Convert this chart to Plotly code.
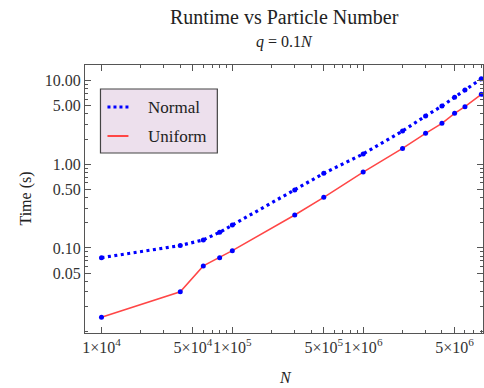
import plotly.graph_objects as go

# ---- data ----
N_values = [1e4, 4e4, 6e4, 8e4, 1e5, 3e5, 5e5, 1e6, 2e6, 3e6, 4e6, 5e6, 6e6, 8e6]
normal_time = [0.0766, 0.107, 0.125, 0.154, 0.188, 0.493, 0.78, 1.33, 2.5, 3.78, 4.97, 6.34, 7.74, 10.5]
uniform_time = [0.0149, 0.030, 0.061, 0.0766, 0.093, 0.248, 0.403, 0.809, 1.55, 2.35, 3.09, 4.07, 4.88, 6.86]

x_tickvals = [1e4, 5e4, 1e5, 5e5, 1e6, 5e6]
x_ticktext = ["1×10<sup>4</sup>", "5×10<sup>4</sup>", "1×10<sup>5</sup>",
              "5×10<sup>5</sup>", "1×10<sup>6</sup>", "5×10<sup>6</sup>"]
y_tickvals = [0.05, 0.10, 0.50, 1.00, 5.00, 10.00]
y_ticktext = ["0.05", "0.10", "0.50", "1.00", "5.00", "10.00"]

x_minor = [m * d for d in (1e4, 1e5, 1e6) for m in (2, 3, 4, 6, 7, 8, 9) if m * d < 8.3e6]
y_minor = [m * d for d in (0.01, 0.1, 1.0) for m in (1, 2, 3, 4, 6, 7, 8, 9)]

SERIF = "Liberation Serif, Times New Roman, serif"
BLUE = "rgb(0,0,255)"
RED = "rgb(255,70,70)"
AXIS = "#555555"

fig = go.Figure()
fig.add_trace(go.Scatter(x=N_values, y=uniform_time, mode="lines+markers", name="Uniform",
                         line=dict(color=RED, width=1.5),
                         marker=dict(color=BLUE, size=5), showlegend=False))
fig.add_trace(go.Scatter(x=N_values, y=normal_time, mode="lines+markers", name="Normal",
                         line=dict(color=BLUE, width=3.2, dash="3px,3.5px"),
                         marker=dict(color=BLUE, size=5), showlegend=False))

axis_common = dict(showline=True, linecolor=AXIS, linewidth=1, mirror="ticks",
                   ticks="inside", ticklen=6, tickcolor=AXIS, showgrid=False,
                   zeroline=False, tickfont=dict(family=SERIF, size=16, color="#333"))

fig.update_xaxes(type="log", range=[3.874, 6.916], tickvals=x_tickvals, ticktext=x_ticktext,
                 tickangle=0,
                 minor=dict(tickvals=x_minor, ticks="inside", ticklen=3, tickcolor=AXIS),
                 **axis_common)
fig.update_yaxes(type="log", range=[-2.016, 1.187], tickvals=y_tickvals, ticktext=y_ticktext,
                 minor=dict(tickvals=y_minor, ticks="inside", ticklen=3, tickcolor=AXIS),
                 **axis_common)

L, R_, T, B = 84.5, 483.0, 65.0, 333.0
def px(x):
    return (x - L) / (R_ - L)
def py(y):
    return (B - y) / (B - T)

annotations = [
    dict(text="Runtime vs Particle Number", x=0.5, y=py(17), xref="paper", yref="paper",
         showarrow=False, font=dict(family=SERIF, size=20, color="#222"), xanchor="center", yanchor="middle"),
    dict(text="<i>q</i> = 0.1<i>N</i>", x=0.5, y=py(42), xref="paper", yref="paper",
         showarrow=False, font=dict(family=SERIF, size=16, color="#222"), xanchor="center", yanchor="middle"),
    dict(text="Time (s)", x=px(25), y=py(199), xref="paper", yref="paper", textangle=-90,
         showarrow=False, font=dict(family=SERIF, size=16, color="#222"), xanchor="center", yanchor="middle"),
    dict(text="<i>N</i>", x=px(285), y=py(377), xref="paper", yref="paper",
         showarrow=False, font=dict(family=SERIF, size=16, color="#222"), xanchor="center", yanchor="middle"),
    dict(text="Normal", x=px(146), y=py(107), xref="paper", yref="paper",
         showarrow=False, font=dict(family=SERIF, size=17, color="#222"), xanchor="left", yanchor="middle"),
    dict(text="Uniform", x=px(146), y=py(136), xref="paper", yref="paper",
         showarrow=False, font=dict(family=SERIF, size=17, color="#222"), xanchor="left", yanchor="middle"),
]

shapes = [
    dict(type="rect", xref="paper", yref="paper", x0=px(100), x1=px(217), y0=py(153), y1=py(89),
         fillcolor="rgb(237,224,237)", line=dict(color="#444", width=1.2), layer="above"),
    dict(type="line", xref="paper", yref="paper", x0=px(107), x1=px(128), y0=py(107), y1=py(107),
         line=dict(color=BLUE, width=3, dash="3px,3px"), layer="above"),
    dict(type="line", xref="paper", yref="paper", x0=px(107), x1=px(128), y0=py(136), y1=py(136),
         line=dict(color=RED, width=2), layer="above"),
]

fig.update_layout(width=484, height=388, margin=dict(l=L, r=484 - R_, t=T, b=388 - B),
                  paper_bgcolor="white", plot_bgcolor="white",
                  annotations=annotations, shapes=shapes, showlegend=False)

fig.write_html("out.html")
